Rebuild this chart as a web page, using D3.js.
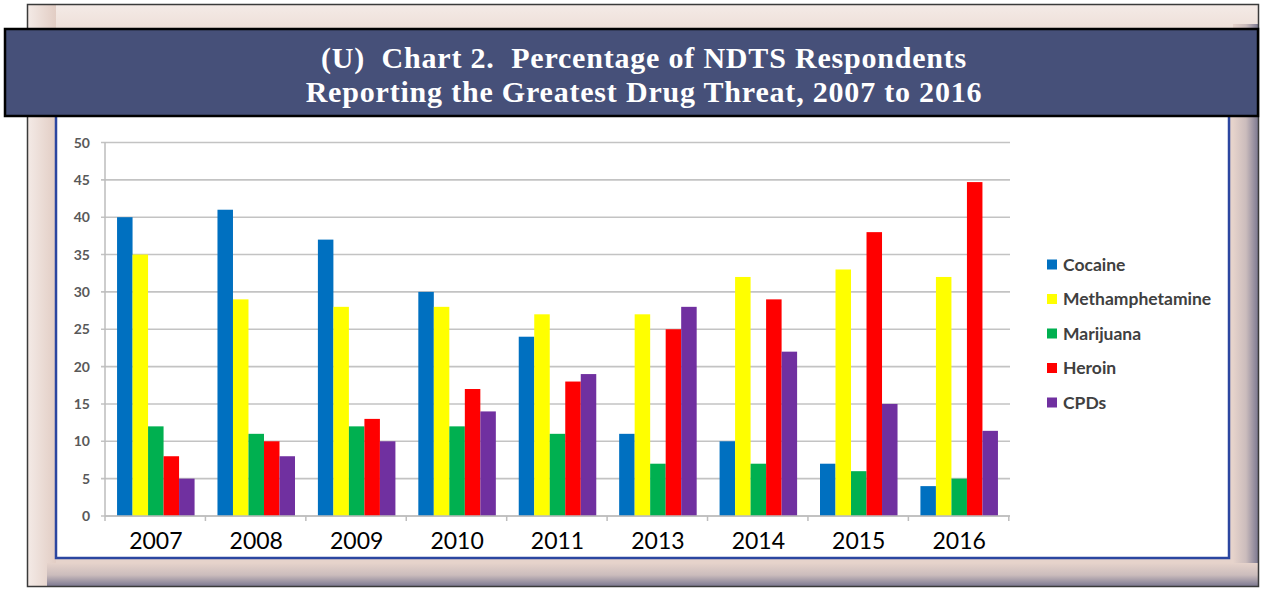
<!DOCTYPE html>
<html>
<head>
<meta charset="utf-8">
<script src="https://cdn.jsdelivr.net/npm/d3@7"></script>
<style>
  body { margin: 0; background: #fff; }
  svg { display: block; }
  .title { white-space: pre; }
</style>
</head>
<body>
<div id="chart"></div>
<script>
// chart data
var years = ["2007", "2008", "2009", "2010", "2011", "2013", "2014", "2015", "2016"];
var drugs = ["Cocaine", "Methamphetamine", "Marijuana", "Heroin", "CPDs"];
var colors = ["#0070C0", "#FFFF00", "#00B050", "#FF0000", "#7030A0"];
var cocaine = [40, 41, 37, 30, 24, 11, 10, 7, 4];
var meth = [35, 29, 28, 28, 27, 27, 32, 33, 32];
var marijuana = [12, 11, 12, 12, 11, 7, 7, 6, 5];
var heroin = [8, 10, 13, 17, 18, 25, 29, 38, 44.7];
var cpds = [5, 8, 10, 14, 19, 28, 22, 15, 11.4];
var yTicks = [0, 5, 10, 15, 20, 25, 30, 35, 40, 45, 50];
var titleLines = [
  "(U)  Chart 2.  Percentage of NDTS Respondents",
  "Reporting the Greatest Drug Threat, 2007 to 2016"
];

var series = [cocaine, meth, marijuana, heroin, cpds];

var W = 1262, H = 590;
var svg = d3.select("#chart").append("svg")
  .attr("width", W)
  .attr("height", H);

var defs = svg.append("defs");

function grad(id, x2, y2, stops) {
  var g = defs.append("linearGradient")
    .attr("id", id)
    .attr("x1", 0).attr("y1", 0)
    .attr("x2", x2).attr("y2", y2);
  stops.forEach(function (s) {
    g.append("stop").attr("offset", s[0]).attr("stop-color", s[1]);
  });
}
grad("gBottom", 0, 1, [[0, "#e6d3cb"], [0.5, "#cbbcbc"], [1, "#77748e"]]);
grad("gRight", 1, 0, [[0, "#e6d3cb"], [0.5, "#cbbcbc"], [1, "#77748e"]]);
grad("gTop", 0, 1, [[0, "#f4ebe7"], [1, "#eedfd8"]]);
grad("gLeft", 1, 0, [[0, "#f4ebe7"], [1, "#e2cdc4"]]);

// picture frame
var frame = { x: 27, y: 4, w: 1232, h: 583 };
svg.append("rect")
  .attr("x", frame.x).attr("y", frame.y)
  .attr("width", frame.w).attr("height", frame.h)
  .attr("fill", "#e6d3cb");
svg.append("rect")
  .attr("x", frame.x).attr("y", frame.y)
  .attr("width", frame.w).attr("height", 25)
  .attr("fill", "url(#gTop)");
svg.append("rect")
  .attr("x", frame.x).attr("y", frame.y)
  .attr("width", 29).attr("height", frame.h)
  .attr("fill", "url(#gLeft)");
svg.append("rect")
  .attr("x", 1233).attr("y", frame.y + 20)
  .attr("width", 26).attr("height", frame.h - 20)
  .attr("fill", "url(#gRight)");
svg.append("rect")
  .attr("x", frame.x + 20).attr("y", 563)
  .attr("width", frame.w - 20).attr("height", 24)
  .attr("fill", "url(#gBottom)");
svg.append("rect")
  .attr("x", frame.x + 0.5).attr("y", frame.y + 0.5)
  .attr("width", frame.w - 1).attr("height", frame.h - 1)
  .attr("fill", "none")
  .attr("stroke", "#3a3a3a")
  .attr("stroke-width", 1.5);

// white chart panel
svg.append("rect")
  .attr("x", 56).attr("y", 112)
  .attr("width", 1173).attr("height", 446)
  .attr("fill", "#fff")
  .attr("stroke", "#2b46a0")
  .attr("stroke-width", 2.5);

// title band
svg.append("rect")
  .attr("x", 5).attr("y", 29)
  .attr("width", 1253).attr("height", 87)
  .attr("fill", "#465079")
  .attr("stroke", "#000")
  .attr("stroke-width", 2.5);

svg.selectAll(".title")
  .data(titleLines)
  .enter()
  .append("text")
  .attr("class", "title")
  .attr("x", 644)
  .attr("y", (d, i) => 68 + i * 34)
  .attr("text-anchor", "middle")
  .attr("font-family", "'Liberation Serif', 'DejaVu Serif', serif")
  .attr("font-weight", "bold")
  .attr("font-size", 30)
  .attr("letter-spacing", 0.8)
  .attr("fill", "#fff")
  .text((d) => d);

// scales
var x0 = d3.scaleBand()
  .domain(years)
  .range([105, 1010])
  .paddingInner(0.228)
  .paddingOuter(0.12);

var x1 = d3.scaleBand()
  .domain(drugs)
  .range([0, x0.bandwidth()]);

var y = d3.scaleLinear()
  .domain([0, 50])
  .range([516, 142.5]);

// gridlines
svg.append("g")
  .selectAll("line")
  .data(yTicks)
  .enter()
  .append("line")
  .attr("x1", 101)
  .attr("x2", 1010)
  .attr("y1", (d) => y(d))
  .attr("y2", (d) => y(d))
  .attr("stroke", "#c3c3c3")
  .attr("stroke-width", 1.6);

// y axis line
svg.append("line")
  .attr("x1", 105).attr("x2", 105)
  .attr("y1", y(50)).attr("y2", y(0))
  .attr("stroke", "#bdbdbd")
  .attr("stroke-width", 1.5);

// y tick labels
svg.append("g")
  .selectAll("text")
  .data(yTicks)
  .enter()
  .append("text")
  .attr("x", 90)
  .attr("y", (d) => y(d) + 5)
  .attr("text-anchor", "end")
  .attr("font-family", "Lato, 'Open Sans', sans-serif")
  .attr("font-weight", "bold")
  .attr("font-size", 14)
  .attr("fill", "#595959")
  .text((d) => d);

// bars
var groups = svg.append("g")
  .selectAll("g")
  .data(years)
  .enter()
  .append("g")
  .attr("transform", (d) => "translate(" + x0(d) + ",0)");

groups.selectAll("rect")
  .data((d, i) => drugs.map((k, j) => ({ key: k, value: series[j][i], color: colors[j] })))
  .enter()
  .append("rect")
  .attr("x", (d) => x1(d.key))
  .attr("y", (d) => y(d.value))
  .attr("width", x1.bandwidth())
  .attr("height", (d) => y(0) - y(d.value))
  .attr("fill", (d) => d.color);

// x axis baseline and category ticks
svg.append("line")
  .attr("x1", 105).attr("x2", 1010)
  .attr("y1", y(0)).attr("y2", y(0))
  .attr("stroke", "#bdbdbd")
  .attr("stroke-width", 1.5);

var step = x0.step();
svg.append("g")
  .selectAll("line")
  .data(d3.range(years.length + 1))
  .enter()
  .append("line")
  .attr("x1", (d) => 105 + d * step)
  .attr("x2", (d) => 105 + d * step)
  .attr("y1", y(0))
  .attr("y2", y(0) + 5)
  .attr("stroke", "#bdbdbd")
  .attr("stroke-width", 1.5);

// year labels
svg.append("g")
  .selectAll("text")
  .data(years)
  .enter()
  .append("text")
  .attr("x", (d) => x0(d) + x0.bandwidth() / 2)
  .attr("y", 549)
  .attr("text-anchor", "middle")
  .attr("font-family", "Lato, 'Open Sans', sans-serif")
  .attr("font-size", 23)
  .attr("fill", "#000")
  .text((d) => d);

// legend
var legend = svg.append("g")
  .selectAll("g")
  .data(drugs)
  .enter()
  .append("g")
  .attr("transform", (d, i) => "translate(1047," + (264.5 + i * 34.5) + ")");

legend.append("rect")
  .attr("x", 0)
  .attr("y", -5)
  .attr("width", 10)
  .attr("height", 10)
  .attr("fill", (d, i) => colors[i]);

legend.append("text")
  .attr("x", 16)
  .attr("y", 6)
  .attr("font-family", "Lato, 'Open Sans', sans-serif")
  .attr("font-weight", "bold")
  .attr("font-size", 17.5)
  .attr("fill", "#404040")
  .text((d) => d);
</script>
</body>
</html>
